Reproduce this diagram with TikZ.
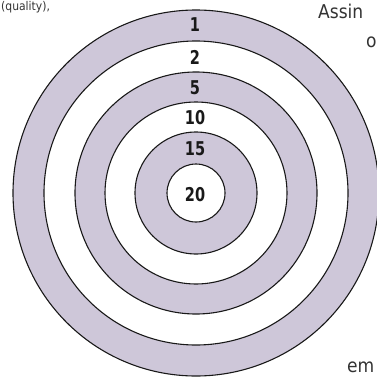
\documentclass[tikz,border=0pt]{standalone}
\usepackage{fontspec}
\setmainfont{DejaVu Sans}
\newfontfamily\digitfont{DejaVu Sans Condensed}[FakeStretch=0.85]
\newfontfamily\sidefont{DejaVu Sans Condensed}
\definecolor{ringfill}{RGB}{206,199,217}
\begin{document}
\begin{tikzpicture}[x=1pt,y=-1pt,
  ringline/.style={draw=black!90, line width=1.1pt},
  lbl/.style={font=\digitfont\bfseries\fontsize{19}{19}\selectfont, inner sep=0pt, text=black!90},
  side/.style={font=\sidefont\fontsize{19}{19}\selectfont, inner sep=0pt, text=black!80, anchor=base west}]
\useasboundingbox (0,0) rectangle (376,380);
\coordinate (c) at (196,193);
% fills
\fill[ringfill] (c) circle (183);
\fill[white] (c) circle (152);
\fill[ringfill] (c) circle (121);
\fill[white] (c) circle (91);
\fill[ringfill] (c) circle (61);
\fill[white] (c) circle (29);
% outlines
\foreach \r in {183,152,121,91,61,29} {\draw[ringline] (c) circle (\r);}
% labels
\node[lbl] (l1) at (195,25) {1};
\node[lbl] (l2) at (195,57) {2};
\node[lbl] (l5) at (195,88) {5};
\node[lbl] (l10) at (195,118) {10};
\node[lbl] (l15) at (195,149) {15};
\node[lbl] (l20) at (195,195) {20};
% side texts
\node[side, font=\sidefont\fontsize{12}{12}\selectfont] (t1) at (1,10) {(quality),};
\node[side] (t2) at (318,18) {Assin};
\node[side] (t3) at (366,47) {o};
\node[side] (t4) at (347,372) {em};
\end{tikzpicture}
\end{document}
